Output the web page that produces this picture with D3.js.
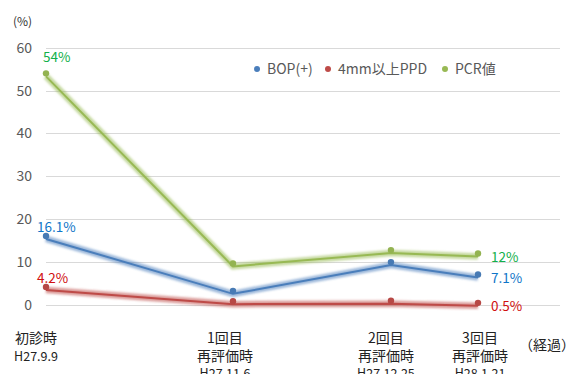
<!DOCTYPE html>
<html>
<head>
<meta charset="utf-8">
<script src="https://cdn.jsdelivr.net/npm/d3@7"></script>
<style>
  body { margin: 0; background: #fff; }
  svg { display: block; font-family: "Noto Sans CJK JP", "Noto Sans", sans-serif; }
</style>
</head>
<body>
<div id="chart"></div>
<script>
// DATA
// ------------------------------------------------------------------

var visitDates = ["2015-09-09", "2015-11-06", "2015-12-25", "2016-01-21"];
var visitLabels = [
  ["初診時", "H27.9.9"],
  ["1回目", "再評価時", "H27.11.6"],
  ["2回目", "再評価時", "H27.12.25"],
  ["3回目", "再評価時", "H28.1.21"]
];
var seriesNames = ["BOP(+)", "4mm以上PPD", "PCR値"];
var bopValues = [16.1, 3.3, 10.0, 7.1];
var ppdValues = [4.2, 0.9, 1.0, 0.5];
var pcrValues = [54, 9.7, 12.8, 12];
var firstLabels = ["16.1%", "4.2%", "54%"];
var lastLabels = ["7.1%", "0.5%", "12%"];
var yTicks = [0, 10, 20, 30, 40, 50, 60];

// CANVAS
// ------------------------------------------------------------------

var width = 566,
    height = 374;

var svg = d3.select("#chart")
    .append("svg")
    .attr("width", width)
    .attr("height", height);

var lineColors = ["#4a7ebb", "#be4b48", "#98b954"],
    labelColors = ["#0f75c8", "#d01010", "#12b04a"],
    textGray = "#595959";

// SCALES
// ------------------------------------------------------------------

var parseDate = d3.timeParse("%Y-%m-%d");
var dates = visitDates.map(parseDate);

var xScale = d3.scaleTime()
    .domain([dates[0], dates[3]])
    .range([46, 478]);

var yScale = d3.scaleLinear()
    .domain([0, 60])
    .range([305, 47.6]);

// GRID + Y AXIS
// ------------------------------------------------------------------

svg.append("g")
    .selectAll("line")
    .data(yTicks)
    .join("line")
    .attr("x1", 46)
    .attr("x2", 560)
    .attr("y1", function(d) { return Math.round(yScale(d)) + 0.5; })
    .attr("y2", function(d) { return Math.round(yScale(d)) + 0.5; })
    .attr("stroke", "#d9d9d9")
    .attr("stroke-width", 1);

svg.append("g")
    .selectAll("text")
    .data(yTicks)
    .join("text")
    .attr("x", 32)
    .attr("y", function(d) { return yScale(d) + 5; })
    .attr("text-anchor", "end")
    .attr("fill", textGray)
    .attr("font-size", 14)
    .text(function(d) { return d; });

svg.append("text")
    .attr("x", 13)
    .attr("y", 26)
    .attr("fill", "#333")
    .attr("font-size", 12)
    .text("(%)");

// LINES
// ------------------------------------------------------------------

var allSeries = [bopValues, ppdValues, pcrValues];

var defs = svg.append("defs");
defs.append("filter")
    .attr("id", "soft")
    .attr("x", "-10%").attr("y", "-50%")
    .attr("width", "120%").attr("height", "200%")
    .append("feGaussianBlur")
    .attr("stdDeviation", 1.3);

var line = d3.line()
    .x(function(d, i) { return xScale(dates[i]); })
    .y(function(d) { return yScale(d) + 3; });

var groups = svg.append("g")
    .selectAll("g")
    .data(allSeries)
    .join("g");

groups.append("path")
    .attr("d", function(d) { return line(d); })
    .attr("fill", "none")
    .attr("stroke", function(d, i) { return lineColors[i]; })
    .attr("stroke-opacity", 0.55)
    .attr("stroke-width", 6.5)
    .attr("filter", "url(#soft)");

groups.append("path")
    .attr("d", function(d) { return line(d); })
    .attr("fill", "none")
    .attr("stroke", function(d, i) { return lineColors[i]; })
    .attr("stroke-width", 2);

groups.selectAll("circle")
    .data(function(d, i) { return d.map(function(v) { return { v: v, s: i }; }); })
    .join("circle")
    .attr("cx", function(d, j) { return xScale(dates[j]); })
    .attr("cy", function(d) { return yScale(d.v); })
    .attr("r", 3.2)
    .attr("fill", function(d) { return d3.color(lineColors[d.s]).darker(0.1); });

// VALUE LABELS
// ------------------------------------------------------------------

svg.append("g")
    .selectAll("text")
    .data(firstLabels)
    .join("text")
    .attr("x", function(d, i) { return i == 2 ? xScale(dates[0]) - 3 : xScale(dates[0]) - 9; })
    .attr("y", function(d, i) { return yScale(allSeries[i][0]) - (i == 2 ? 11 : 4); })
    .attr("fill", function(d, i) { return labelColors[i]; })
    .attr("font-size", 13.5)
    .text(function(d) { return d; });

svg.append("g")
    .selectAll("text")
    .data(lastLabels)
    .join("text")
    .attr("x", xScale(dates[3]) + 13)
    .attr("y", function(d, i) { return yScale(allSeries[i][3]) + 8; })
    .attr("fill", function(d, i) { return labelColors[i]; })
    .attr("font-size", 13.5)
    .text(function(d) { return d; });

// LEGEND
// ------------------------------------------------------------------

var legendX = [257, 328, 445];
var legend = svg.append("g")
    .selectAll("g")
    .data(seriesNames)
    .join("g")
    .attr("transform", function(d, i) { return "translate(" + legendX[i] + ",69)"; });

legend.append("circle")
    .attr("r", 3)
    .attr("fill", function(d, i) { return lineColors[i]; });

legend.append("text")
    .attr("x", 10)
    .attr("y", 5)
    .attr("fill", textGray)
    .attr("font-size", 14)
    .text(function(d) { return d; });

// X LABELS
// ------------------------------------------------------------------

var labelShift = [-10, -8, -5, 2];
var xLabels = svg.append("g")
    .selectAll("text")
    .data(visitLabels)
    .join("text")
    .attr("text-anchor", "middle")
    .attr("fill", "#222")
    .attr("transform", function(d, i) {
      return "translate(" + (xScale(dates[i]) + labelShift[i]) + ",343)";
    });

xLabels.selectAll("tspan")
    .data(function(d) { return d; })
    .join("tspan")
    .attr("x", 0)
    .attr("y", function(d, j) { return j * 17.5; })
    .attr("font-size", function(d) { return /^H/.test(d) ? 12.5 : 14; })
    .text(function(d) { return d; });

svg.append("text")
    .attr("x", 519)
    .attr("y", 350)
    .attr("fill", "#222")
    .attr("font-size", 14)
    .text("（経過）");
</script>
</body>
</html>
